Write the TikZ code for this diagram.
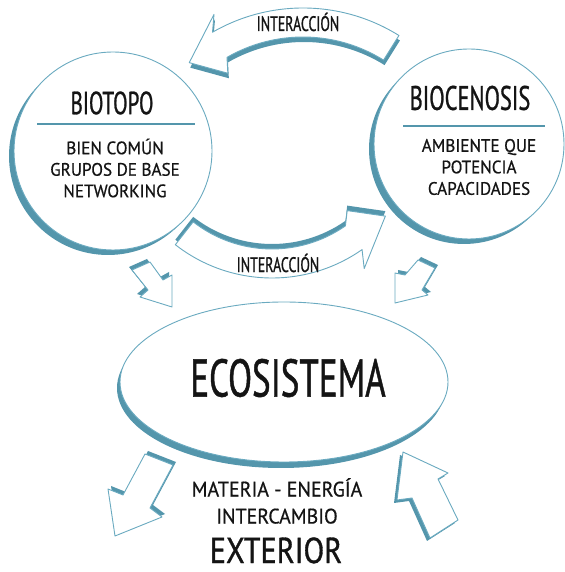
\documentclass[tikz,border=0pt]{standalone}
\usepackage{fontspec}
\setmainfont{PT Sans}
\newfontfamily\narrowfont[FakeStretch=0.66,FakeBold=0.8]{PT Sans}
\newfontfamily\plainfont[FakeStretch=0.95,FakeBold=0.6]{PT Sans}
\newfontfamily\widefont[FakeStretch=0.84,FakeBold=0.9]{PT Sans}
\usetikzlibrary{shapes.geometric,shadows,calc}
\definecolor{deep}{RGB}{84,150,172}
\definecolor{edge}{RGB}{106,170,192}
\definecolor{ink}{RGB}{20,20,20}

\begin{document}
\begin{tikzpicture}[x=1pt, y=1pt,
  disc/.style={circle, draw=edge, line width=0.9pt, fill=white, inner sep=0pt,
    general shadow={fill=deep, shadow xshift=-5pt, shadow yshift=-5pt}},
  eco/.style={ellipse, draw=edge, line width=0.9pt, fill=white, inner sep=0pt,
    general shadow={fill=deep, shadow xshift=-3pt, shadow yshift=-6pt}},
  ribbon/.style 2 args={draw=edge, line width=0.9pt, fill=white, line join=round,
    general shadow={fill=deep, shadow xshift=#1, shadow yshift=#2}},
  rule/.style={draw=deep, line width=1.1pt},
  title/.style={text=ink, inner sep=0pt},
  body/.style={text=ink, inner sep=0pt, align=center,
    font=\plainfont\fontsize{18}{21.5}\selectfont}
]
\useasboundingbox (0,0) rectangle (564,572);

% curved arrows between the two discs
\coordinate (upper) at (303,383);
\coordinate (lower) at (272,451);
\filldraw[ribbon={1pt}{-5pt}]
  ([shift={(upper)}]58:181) arc[start angle=58, end angle=120, radius=181]
  -- ([shift={(upper)}]117:196) -- ([shift={(upper)}]132:170)
  -- ([shift={(upper)}]123:138) -- ([shift={(upper)}]120:152)
  arc[start angle=120, end angle=58, radius=152] -- cycle;
\filldraw[ribbon={0pt}{5pt}]
  ([shift={(lower)}]232:157) arc[start angle=232, end angle=305, radius=157]
  -- ([shift={(lower)}]302:174) -- ([shift={(lower)}]320:148)
  -- ([shift={(lower)}]310:117) -- ([shift={(lower)}]305:128)
  arc[start angle=305, end angle=232, radius=128] -- cycle;
\node[title, font=\narrowfont\fontsize{21}{21}\selectfont] (top-label) at (298,550) {INTERACCIÓN};
\node[title, font=\narrowfont\fontsize{21}{21}\selectfont] (low-label) at (278,309) {INTERACCIÓN};

% the two discs
\node[disc, minimum size=198pt] (biotopo) at (113,421) {};
\node[disc, minimum size=190pt] (biocenosis) at (469,428) {};
\node[title, font=\narrowfont\fontsize{32}{32}\selectfont] (bt-name) at (112,469) {BIOTOPO};
\draw[rule] ($(biotopo)+(-76,27)$) -- ($(biotopo)+(82,27)$);
\node[body] (bt-text) at (115,404) {BIEN COMÚN\\GRUPOS DE BASE\\NETWORKING};
\node[title, font=\narrowfont\fontsize{34}{34}\selectfont] (bc-name) at (470,474) {BIOCENOSIS};
\draw[rule] ($(biocenosis)+(-66,18)$) -- ($(biocenosis)+(76,18)$);
\node[body] (bc-text) at (479,405) {AMBIENTE QUE\\POTENCIA\\CAPACIDADES};

% small arrows into the ellipse
\filldraw[ribbon={-3pt}{3pt}] (132,302) -- (150,310) -- (163,292) -- (172,297)
  -- (172,265) -- (140,275) -- (148,282) -- cycle;
\filldraw[ribbon={3pt}{3pt}] (418,312) -- (435,304) -- (422,282) -- (428,277)
  -- (395,269) -- (395,299) -- (405,297) -- cycle;

% ecosystem
\node[eco, minimum width=328pt, minimum height=160pt] (ecosistema) at (284,190) {};
\node[title, font=\narrowfont\fontsize{53}{53}\selectfont] (eco-name) at (288,194) {ECOSISTEMA};

% exchange with the outside
\filldraw[ribbon={3pt}{3pt}] (145,118) -- (173,107) -- (150,64) -- (162,55)
  -- (115,36) -- (108,83) -- (123,77) -- cycle;
\filldraw[ribbon={-3pt}{-3pt}] (403,120) -- (448,99) -- (438,93) -- (458,52)
  -- (430,34) -- (412,74) -- (397,72) -- cycle;
\node[body, font=\plainfont\fontsize{21}{27}\selectfont] (flow) at (277,71) {MATERIA - ENERGÍA\\INTERCAMBIO};
\node[title, font=\widefont\fontsize{36}{36}\selectfont, anchor=base] (exterior) at (276,9) {EXTERIOR};
\end{tikzpicture}
\end{document}
